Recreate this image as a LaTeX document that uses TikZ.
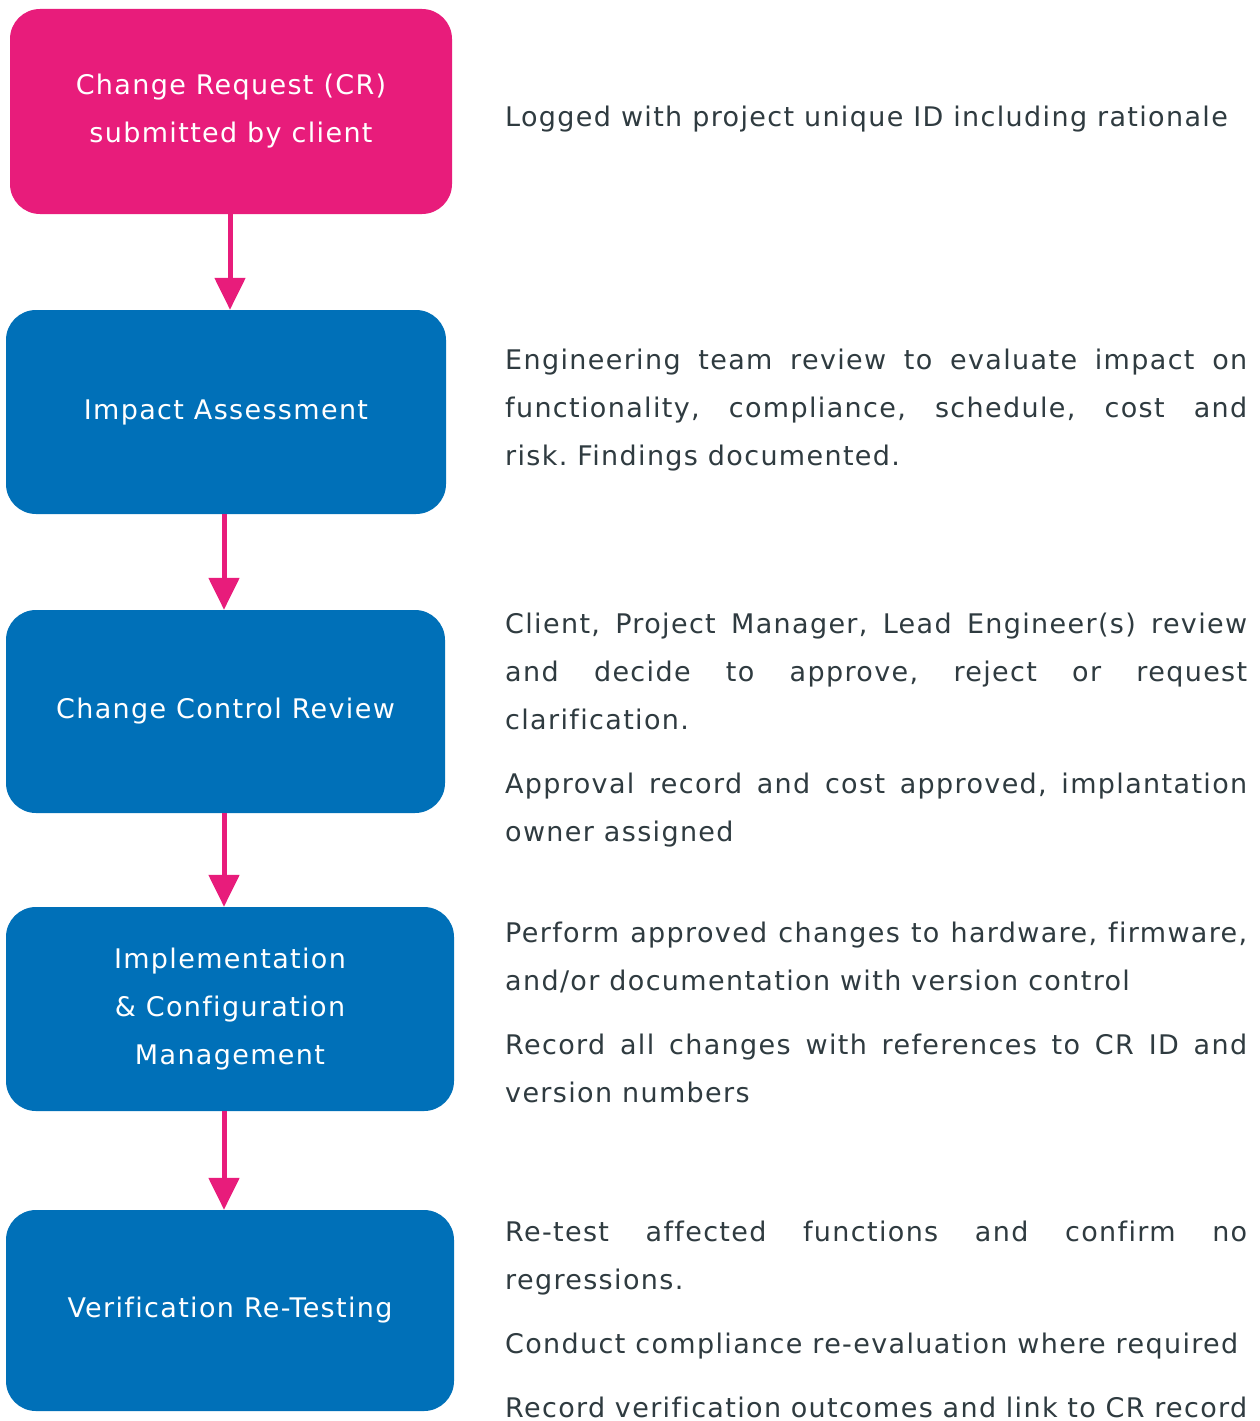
\documentclass[tikz,border=0pt]{standalone}
\usepackage{fontspec}
\setmainfont{DejaVu Sans}[LetterSpace=5,Ligatures=NoCommon]
\usetikzlibrary{arrows.meta}
\definecolor{crpink}{HTML}{E81C7B}
\definecolor{crblue}{HTML}{0070B8}
\definecolor{crtext}{HTML}{2F3B40}
\hyphenpenalty=10000
\exhyphenpenalty=10000
\emergencystretch=40pt
\frenchspacing
\begin{document}
\begin{tikzpicture}[x=1pt,y=-1pt,
  stepbox/.style={rectangle, rounded corners=30pt, fill=crblue, text=white, align=center,
    inner sep=0pt, font=\fontsize{27}{48}\selectfont},
  firstbox/.style={stepbox, fill=crpink},
  desc/.style={anchor=north west, inner sep=0pt, text width=742pt, align=justify,
    text=crtext, font=\fontsize{27}{48}\selectfont},
  arr/.style={draw=crpink, line width=5pt, -{Triangle[width=30pt,length=32pt]}}
]
\useasboundingbox (0,0) rectangle (1260,1421);
\fill[white] (0,0) rectangle (1260,1421);

\node[firstbox, minimum width=442pt, minimum height=205pt] (b1) at (231,111.5)
  {Change Request (CR)\\submitted by client};
\node[stepbox, minimum width=440pt, minimum height=204pt] (b2) at (226,412)
  {Impact Assessment};
\node[stepbox, minimum width=439pt, minimum height=203pt] (b3) at (225.5,711.5)
  {Change Control Review};
\node[stepbox, minimum width=448pt, minimum height=204pt] (b4) at (230,1009)
  {Implementation\\\& Configuration\\Management};
\node[stepbox, minimum width=448pt, minimum height=201pt] (b5) at (230,1310.5)
  {Verification Re-Testing};

\draw[arr] ([xshift=-1pt]b1.south) -- ([xshift=-1pt]b1.south |- b2.north);
\draw[arr] ([xshift=-2pt]b2.south) -- ([xshift=-2pt]b2.south |- b3.north);
\draw[arr] ([xshift=-1.5pt]b3.south) -- ([xshift=-1.5pt]b3.south |- b4.north);
\draw[arr] ([xshift=-6pt]b4.south) -- ([xshift=-6pt]b4.south |- b5.north);

\node[desc] (d1) at (505,92.4) {\strut Logged with project unique ID including rationale};
\node[desc] (d2) at (505,335.4) {\strut Engineering team review to evaluate impact on\linebreak functionality, compliance, schedule, cost and\linebreak risk. Findings documented.};
\node[desc] (d3) at (505,599.4) {\strut Client, Project Manager, Lead Engineer(s) review\linebreak and decide to approve, reject or request\linebreak clarification.};
\node[desc] (d4) at (505,759.4) {\strut Approval record and cost approved, implantation\linebreak owner assigned};
\node[desc] (d5) at (505,908.4) {\strut Perform approved changes to hardware, firmware,\linebreak and/or documentation with version control};
\node[desc] (d6) at (505,1020.4) {\strut Record all changes with references to CR ID and\linebreak version numbers};
\node[desc] (d7) at (505,1207.4) {\strut Re-test affected functions and confirm no\linebreak regressions.};
\node[desc] (d8) at (505,1319.4) {\strut Conduct compliance re-evaluation where required};
\node[desc] (d9) at (505,1383.4) {\strut Record verification outcomes and link to CR record};
\end{tikzpicture}
\end{document}
